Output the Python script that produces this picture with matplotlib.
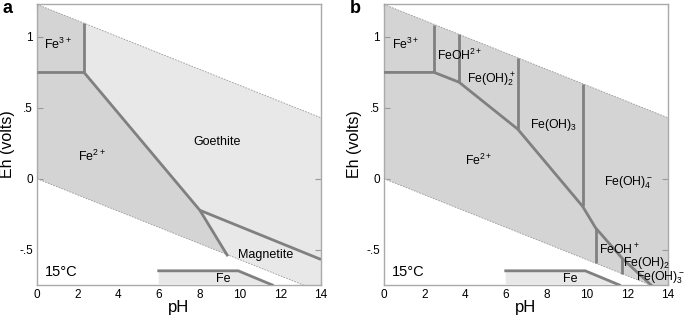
import matplotlib.pyplot as plt
from matplotlib.patches import Polygon

plt.rcParams['font.family'] = ['Liberation Sans', 'DejaVu Sans']
plt.rcParams['mathtext.fontset'] = 'custom'
plt.rcParams['mathtext.rm'] = 'Liberation Sans'
plt.rcParams['mathtext.it'] = 'Liberation Sans'
plt.rcParams['mathtext.bf'] = 'Liberation Sans:bold'

# water stability limits (pH, Eh) at 15 C
WATER_PH = [0, 14]
WATER_UPPER = [1.23, 0.43]
WATER_LOWER = [0.0, -0.80]

# Fe(s) field, shared by both panels
FE_PH = [6, 9.92, 11.6]
FE_EH = [-0.65, -0.65, -0.75]

# panel a boundaries
A_FE3_H_PH = [0, 2.32]
A_FE3_H_EH = [0.75, 0.75]
A_FE3_V_PH = [2.32, 2.32]
A_FE3_V_EH = [0.75, 1.097]
A_FE2_PH = [2.32, 8.03, 9.41]
A_FE2_EH = [0.75, -0.223, -0.547]
A_MAG_PH = [8.03, 14]
A_MAG_EH = [-0.223, -0.57]

# panel b boundaries
B_MAIN_PH = [0, 2.48, 3.70, 6.59, 9.79, 10.43, 11.75, 13.2]
B_MAIN_EH = [0.75, 0.75, 0.681, 0.35, -0.195, -0.347, -0.563, -0.755]
B_VERT_PH = [2.48, 3.70, 6.59, 9.79, 10.43, 11.75]
B_VERT_LO = [0.75, 0.681, 0.35, -0.195, -0.347, -0.563]
B_VERT_HI = [1.088, 1.018, 0.853, 0.67, -0.597, -0.672]

DARK = '#d4d4d4'
LIGHT = '#e8e8e8'
LINE = '#808080'


def base_axes(ax):
    ax.set_xlim(0, 14)
    ax.set_ylim(-0.75, 1.232)
    ax.set_xticks(range(0, 15, 2))
    ax.set_yticks([-0.5, 0, 0.5, 1])
    ax.set_yticklabels(['-.5', '0', '.5', '1'])
    ax.tick_params(direction='in', length=4, color='#999999', labelsize=8.5,
                   top=True, right=True, pad=3)
    for s in ax.spines.values():
        s.set_color('#aaaaaa')
        s.set_linewidth(1.0)
    ax.set_xlabel('pH', fontsize=12)
    ax.set_ylabel('Eh (volts)', fontsize=11.5)
    ax.xaxis.set_label_coords(0.5, -0.055)
    ax.yaxis.set_label_coords(-0.078, 0.5)


def water_and_fe(ax):
    # blank out everything outside water stability
    up = [(WATER_PH[0], WATER_UPPER[0]), (WATER_PH[1], WATER_UPPER[1]),
          (14, 2), (0, 2)]
    lo = [(WATER_PH[0], WATER_LOWER[0]), (WATER_PH[1], WATER_LOWER[1]),
          (14, -2), (0, -2)]
    ax.add_patch(Polygon(up, closed=True, fc='white', ec='none', zorder=2))
    ax.add_patch(Polygon(lo, closed=True, fc='white', ec='none', zorder=2))
    ax.plot(WATER_PH, WATER_UPPER, ls=(0, (2, 1.5)), color='#999999', lw=0.6, zorder=3)
    ax.plot(WATER_PH, WATER_LOWER, ls=(0, (2, 1.5)), color='#999999', lw=0.6, zorder=3)
    fe = list(zip(FE_PH, FE_EH)) + [(FE_PH[-1], -2), (FE_PH[0], -2)]
    ax.add_patch(Polygon(fe, closed=True, fc=LIGHT, ec='none', zorder=4))
    ax.plot(FE_PH, FE_EH, color=LINE, lw=2, zorder=5)
    ax.text(9.2, -0.705, 'Fe', ha='center', va='center', fontsize=9, zorder=6)
    ax.text(0.4, -0.655, '15°C', ha='left', va='center', fontsize=10.5, zorder=6)


fig = plt.figure(figsize=(6.85, 3.17), dpi=100)
axa = fig.add_axes([0.054, 0.101, 0.4146, 0.886])
axb = fig.add_axes([0.5606, 0.101, 0.4146, 0.886])

# ---- panel a ----
axa.add_patch(Polygon([(0, -2), (14, -2), (14, 2), (0, 2)], fc=LIGHT, ec='none', zorder=1))
dark = [(0, 2), (A_FE3_V_PH[0], 2)] + list(zip(A_FE2_PH, A_FE2_EH)) + [(A_FE2_PH[-1], -2), (0, -2)]
axa.add_patch(Polygon(dark, closed=True, fc=DARK, ec='none', zorder=1))
water_and_fe(axa)
for px, py in [(A_FE3_H_PH, A_FE3_H_EH), (A_FE3_V_PH, A_FE3_V_EH),
               (A_FE2_PH, A_FE2_EH), (A_MAG_PH, A_MAG_EH)]:
    axa.plot(px, py, color=LINE, lw=2, zorder=5, solid_capstyle='butt')
axa.text(0.35, 0.95, 'Fe$^{3+}$', fontsize=9, va='center', zorder=6)
axa.text(2.7, 0.16, 'Fe$^{2+}$', fontsize=9, ha='center', va='center', zorder=6)
axa.text(8.9, 0.26, 'Goethite', fontsize=9, ha='center', va='center', zorder=6)
axa.text(11.25, -0.54, 'Magnetite', fontsize=9, ha='center', va='center', zorder=6)
base_axes(axa)
axa.text(-0.122, 0.985, 'a', transform=axa.transAxes, fontsize=13, fontweight='bold',
         va='center', ha='left')

# ---- panel b ----
axb.add_patch(Polygon([(0, -2), (14, -2), (14, 2), (0, 2)], fc=DARK, ec='none', zorder=1))
water_and_fe(axb)
axb.plot(B_MAIN_PH, B_MAIN_EH, color=LINE, lw=2, zorder=5)
for x, lo, hi in zip(B_VERT_PH, B_VERT_LO, B_VERT_HI):
    axb.plot([x, x], [lo, hi], color=LINE, lw=2, zorder=5, solid_capstyle='butt')
labels_b = [
    (0.38, 0.95, 'Fe$^{3+}$'),
    (2.6, 0.87, 'FeOH$^{2+}$'),
    (4.1, 0.70, 'Fe(OH)$_2^+$'),
    (7.2, 0.38, 'Fe(OH)$_3$'),
    (4.0, 0.13, 'Fe$^{2+}$'),
    (10.85, -0.03, 'Fe(OH)$_4^-$'),
    (10.6, -0.505, 'FeOH$^+$'),
    (11.8, -0.595, 'Fe(OH)$_2$'),
    (12.4, -0.70, 'Fe(OH)$_3^-$'),
]
for x, y, s in labels_b:
    axb.text(x, y, s, fontsize=8.8, va='center', ha='left', zorder=6)
base_axes(axb)
axb.text(-0.122, 0.985, 'b', transform=axb.transAxes, fontsize=13, fontweight='bold',
         va='center', ha='left')

fig.savefig('out.png', dpi=100)
